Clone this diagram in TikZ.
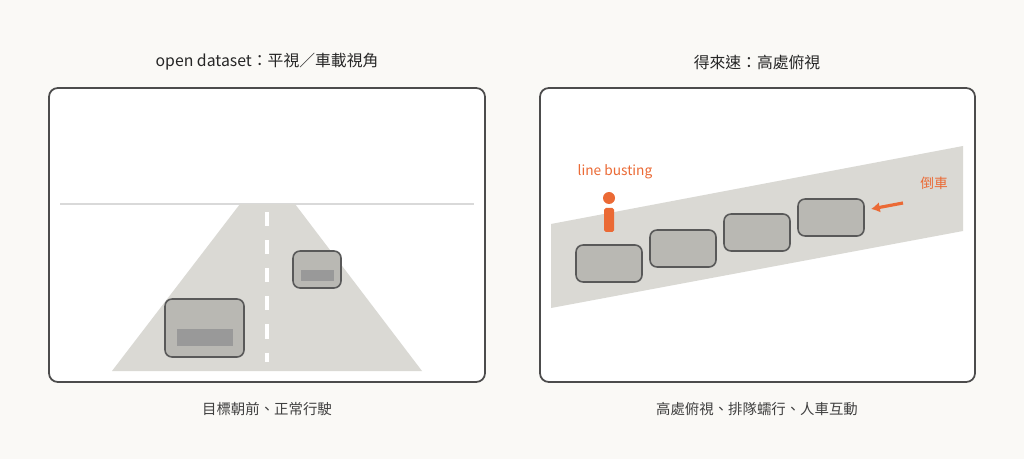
\documentclass[tikz,border=0pt]{standalone}
\usepackage{fontspec}
\setmainfont{Noto Sans CJK TC}
\usetikzlibrary{arrows.meta}
\begin{document}
\begin{tikzpicture}[x=0.02cm,y=-0.02cm,
  panel/.style={draw=black!70,line width=1pt,fill=white,rounded corners=5pt},
  car/.style={draw=black!65,line width=0.9pt,fill={rgb,255:red,185;green,184;blue,179},rounded corners=4pt},
  bar/.style={fill=black!40,draw=none},
  road/.style={fill={rgb,255:red,218;green,217;blue,212},draw=none},
  title/.style={font=\fontsize{9}{11}\selectfont,text=black!85},
  captxt/.style={font=\fontsize{8.2}{10}\selectfont,text=black!75}]
\definecolor{org}{HTML}{EB6A35}
\fill[fill={rgb,255:red,250;green,249;blue,246}] (0,0) rectangle (1024,459);
\useasboundingbox (0,0) rectangle (1024,459);
% left
\node[title] (t1) at (267,62) {open dataset：平視／車載視角};
\draw[panel] (49,88) rectangle (485,382);
\draw[black!15,line width=0.8pt] (60,204) -- (474,204);
\fill[road] (240,204) -- (295,204) -- (422,371) -- (112,371) -- cycle;
\draw[white,line width=1.8pt,dash pattern=on 8pt off 8pt] (267,212) -- (267,362);
\draw[car] (165,299) rectangle (244,357);
\fill[bar] (177,329) rectangle (233,346);
\draw[car] (293,251) rectangle (341,288);
\fill[bar] (301,270) rectangle (334,281);
\node[captxt] (c1) at (267,409) {目標朝前、正常行駛};
% right
\node[title] (t2) at (757,62) {得來速：高處俯視};
\draw[panel] (540,88) rectangle (975,382);
\fill[road] (551,224) -- (963,146) -- (963,231) -- (551,308) -- cycle;
\draw[car] (576,245) rectangle (642,282);
\draw[car] (650,230) rectangle (716,267);
\draw[car] (724,214) rectangle (790,251);
\draw[car] (798,199) rectangle (864,236);
\fill[org] (609,198) circle (6);
\fill[org,rounded corners=1pt] (604,208) rectangle (614,232);
\node[font=\fontsize{7.8}{10}\selectfont,text=org] (lb) at (615,172) {line busting};
\node[font=\fontsize{7.8}{10}\selectfont,text=org] (dc) at (934,183) {倒車};
\coordinate (a1) at (903,203);
\coordinate (a2) at (871,209);
\draw[org,line width=1.8pt,-{Latex[length=5pt,width=6pt]}] (a1) -- (a2);
\node[captxt] (c2) at (757,409) {高處俯視、排隊蠕行、人車互動};
\end{tikzpicture}
\end{document}
